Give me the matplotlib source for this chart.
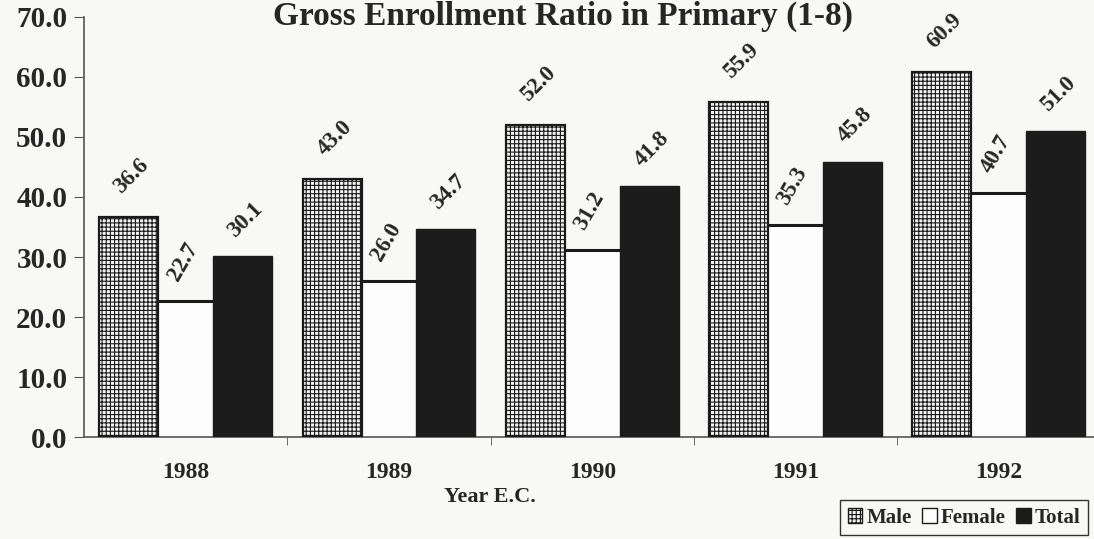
import numpy as np
import matplotlib
matplotlib.use("Agg")
import matplotlib.pyplot as plt
from matplotlib.patches import Patch

years = ["1988", "1989", "1990", "1991", "1992"]
male = [36.6, 43.0, 52.0, 55.9, 60.9]
female = [22.7, 26.0, 31.2, 35.3, 40.7]
total = [30.1, 34.7, 41.8, 45.8, 51.0]

plt.rcParams['font.family'] = ['Liberation Serif', 'DejaVu Serif']
plt.rcParams['font.weight'] = 'bold'
plt.rcParams['hatch.linewidth'] = 0.8
plt.rcParams['hatch.color'] = '#333333'

ink = '#262626'
bg = '#f8f8f6'

fig = plt.figure(figsize=(10.94, 5.39), dpi=100, facecolor=bg)
ax = fig.add_axes([0.0768, 0.1892, 0.9232, 0.7793])
ax.set_facecolor(bg)

x = np.arange(len(years))
w = 0.29
off = 0.28

# female bars: white, only a top line between the neighbours
ax.bar(x, female, width=2 * off - w, color='#fdfdfd', edgecolor='none', zorder=2)
ax.hlines(female, x - (off - w / 2), x + (off - w / 2), colors='#1a1a1a', lw=2.2, zorder=3)
ax.bar(x - off, male, width=w, color='#f2f2f2', hatch='++++', edgecolor='#1a1a1a',
       lw=1.6, zorder=3)
ax.bar(x + off, total, width=w, color='#1c1c1c', edgecolor='#1c1c1c', lw=1, zorder=3)

lab = dict(fontsize=16.5, fontweight='bold', color=ink, ha='center', va='bottom',
           textcoords='offset points')
for i in range(len(years)):
    ax.annotate(f"{male[i]:.1f}", (x[i] - off, male[i]), xytext=(2, 14), rotation=45, **lab)
    ax.annotate(f"{female[i]:.1f}", (x[i], female[i]), xytext=(-2, 12), rotation=60, **lab)
    ax.annotate(f"{total[i]:.1f}", (x[i] + off, total[i]), xytext=(2, 11), rotation=45, **lab)

ax.set_xlim(-0.5, 4.468)
ax.set_ylim(0, 70)
ax.set_yticks(np.arange(0, 71, 10))
ax.set_yticklabels([f"{v:.1f}" for v in np.arange(0, 71, 10)], fontsize=21,
                   fontweight='bold', color=ink)
ax.set_xticks(x)
ax.set_xticklabels(years, fontsize=17, fontweight='bold', color=ink)
ax.set_xticks(x[:-1] + 0.5, minor=True)
ax.tick_params(axis='x', which='major', length=0, pad=18)
ax.tick_params(axis='x', which='minor', length=6, color='#555555', direction='out')
ax.tick_params(axis='y', length=7, color='#555555', pad=5)

for s in ['top', 'right']:
    ax.spines[s].set_visible(False)
ax.spines['left'].set_color('#555555')
ax.spines['bottom'].set_color('#555555')
ax.spines['left'].set_linewidth(1.2)
ax.spines['bottom'].set_linewidth(1.2)

fig.text(0.515, 0.998, "Gross Enrollment Ratio in Primary (1-8)", ha='center',
         va='top', fontsize=24, fontweight='bold', color=ink)
fig.text(0.448, 1 - 497 / 539, "Year E.C.", ha='center', va='center', fontsize=16,
         fontweight='bold', color=ink)

handles = [Patch(facecolor='#f2f2f2', hatch='++++', edgecolor='#1a1a1a', label='Male'),
           Patch(facecolor='#fdfdfd', edgecolor='#1a1a1a', label='Female'),
           Patch(facecolor='#1c1c1c', edgecolor='#1c1c1c', label='Total')]
leg = fig.legend(handles=handles, loc='lower right', bbox_to_anchor=(1.004, -0.012), ncol=3,
                 fontsize=15, handlelength=0.7, handleheight=0.7, handletextpad=0.2,
                 columnspacing=0.5, borderpad=0.35, fancybox=False, framealpha=1,
                 edgecolor='#333333', facecolor=bg)
for t in leg.get_texts():
    t.set_color(ink)
    t.set_fontweight('bold')

fig.savefig("out.png", dpi=100, facecolor=bg)
